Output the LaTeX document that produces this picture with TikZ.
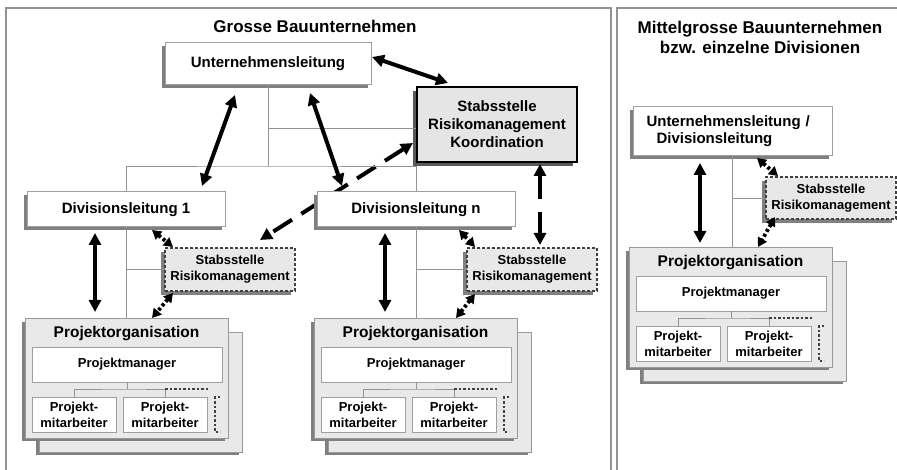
\documentclass[tikz,border=0pt]{standalone}
\usepackage{fontspec}
\setmainfont{Liberation Sans}
\usetikzlibrary{arrows.meta,shadows,calc}
\pgfdeclarelayer{background}
\pgfsetlayers{background,main}

\newcommand\fsize[2]{\fontsize{#1}{#2}\selectfont\bfseries}

\tikzset{
  framebox/.style={draw=gray!85, line width=1.4pt},
  orgline/.style={draw=gray!85, line width=0.9pt},
  shadowed/.style={drop shadow={shadow xshift=-3pt, shadow yshift=-3pt, fill=black!50, opacity=1}},
  wbox/.style={draw=gray!75, fill=white, line width=1pt, inner sep=0pt, shadowed, font=\fsize{15}{18}},
  koordbox/.style={draw=black, line width=2.4pt, fill=gray!20, inner sep=0pt, align=center,
    minimum width=160pt, minimum height=75pt, font=\fsize{15}{18},
    drop shadow={shadow xshift=-4pt, shadow yshift=-4pt, fill=black!65, opacity=1}},
  staff/.style={draw=black!75, dash pattern=on 3pt off 2pt, line width=1.5pt, fill=gray!18,
    inner sep=0pt, align=center, minimum width=130pt, minimum height=43pt,
    font=\fsize{13}{16}, drop shadow={shadow xshift=-4pt, shadow yshift=-4pt, fill=black!50, opacity=1}},
  pbox/.style={draw=gray!80, fill=gray!17, line width=1pt, inner sep=0pt,
    minimum width=203pt, minimum height=119pt, shadowed},
  ptitle/.style={inner sep=0pt, font=\fsize{15.5}{18}},
  pmbox/.style={draw=gray!75, fill=white, line width=0.9pt, inner sep=0pt,
    minimum width=190pt, minimum height=35pt, font=\fsize{13}{16}},
  mabox/.style={draw=gray!75, fill=white, line width=0.9pt, inner sep=0pt, align=center,
    minimum width=84pt, minimum height=35pt, font=\fsize{13}{16}},
  morebox/.style={draw=black!75, line width=1.1pt, dash pattern=on 2.5pt off 2pt},
  arrS/.style={line width=4pt, {Triangle[length=12pt,width=12pt]}-{Triangle[length=12pt,width=12pt]}},
  arrD/.style={arrS, dash pattern=on 22pt off 10pt},
  arrP/.style={line width=3.8pt, dash pattern=on 3pt off 2.5pt,
    {Triangle[length=9pt,width=10pt]}-{Triangle[length=9pt,width=10pt]}}
}

% one project organisation: front sheet, back sheet, manager and staff
\newcommand\projorg[3]{%
  \begin{scope}[shift={(#2,#3)}]
    \node[pbox] (#1b) at (115.5,73.5) {};
    \node[pbox] (#1) at (101.5,59.5) {};
    \node[ptitle] (#1t) at (101.5,15) {Projektorganisation};
    \node[pmbox] (#1pm) at (102,45.5) {Projektmanager};
    \node[mabox] (#1m1) at (49,95.5) {Projekt-\\mitarbeiter};
    \node[mabox] (#1m2) at (140,95.5) {Projekt-\\mitarbeiter};
    \coordinate (#1j) at (102,70);
    \draw[orgline] (#1pm.south) -- (#1j);
    \draw[orgline] (#1m1.north) |- (#1j) -| (#1m2.north);
    \draw[morebox] (#1m2.north |- #1j) -- ++(43,0);
    \draw[morebox] (195,78) -- (190,78) -- (190,113) -- (195,113);
  \end{scope}}

\begin{document}
\begin{tikzpicture}[x=1pt,y=-1pt]
\useasboundingbox (0,0) rectangle (897,470);
\clip (0,0) rectangle (897,470);

% panels
\draw[framebox] (6,8) rectangle (611,480);
\draw[framebox] (617,8) rectangle (910,480);

\node[font=\fsize{17}{20}] (t1) at (315,26) {Grosse Bauunternehmen};
\node[font=\fsize{17}{20}, align=center] (t2) at (760,37) {Mittelgrosse Bauunternehmen\\bzw. einzelne Divisionen};

% large companies
\node[wbox, minimum width=206pt, minimum height=42pt] (unt) at (268,64) {Unternehmensleitung};
\node[koordbox] (koord) at (497,124.5) {Stabsstelle\\Risikomanagement\\Koordination};
\node[wbox, minimum width=198pt, minimum height=35pt] (div1) at (126,209.5) {Divisionsleitung 1};
\node[wbox, minimum width=198pt, minimum height=35pt] (divn) at (416,209.5) {Divisionsleitung n};
\node[staff] (stabL) at (230,269.5) {Stabsstelle\\Risikomanagement};
\node[staff] (stabM) at (532,269.5) {Stabsstelle\\Risikomanagement};
\projorg{pL}{25}{319}
\projorg{pM}{314}{319}

% medium companies
\node[wbox, minimum width=199pt, minimum height=49pt, text width=172pt, inner xsep=13.5pt,
  align=left, font=\fsize{15}{17}] (untR) at (732.5,131.5) {Unternehmensleitung /\\\hspace*{10pt}Divisionsleitung};
\node[staff, minimum height=42pt] (stabR) at (831,198) {Stabsstelle\\Risikomanagement};
\projorg{pR}{629}{248}

% line organisation
\coordinate (jT) at (268,166);
\coordinate (jK) at (268,128);
\draw[orgline] (unt.south) -- (jT);
\draw[orgline] (div1.north) |- (jT) -| (divn.north);
\draw[orgline] (jK) -- (jK -| koord.west);
\draw[orgline] (div1.south) -- (div1.south |- pL.north);
\draw[orgline] (div1.south |- stabL.west) -- (stabL.west);
\draw[orgline] (divn.south) -- (divn.south |- pM.north);
\draw[orgline] (divn.south |- stabM.west) -- (stabM.west);
\draw[orgline] (untR.south) -- (untR.south |- pR.north);
\draw[orgline] (untR.south |- stabR.west) -- (stabR.west);

% communication paths
\coordinate (a4s) at (413,143);
\coordinate (a4e) at (260,240);
\begin{pgfonlayer}{background}
  \draw[arrD, dash pattern=on 22pt off 11pt] (a4s) -- (a4e);
\end{pgfonlayer}

\coordinate (a1s) at (372,57);   \coordinate (a1e) at (448,83);
\coordinate (a2s) at (235,95);   \coordinate (a2e) at (202,186);
\coordinate (a3s) at (310,93);   \coordinate (a3e) at (342,186);
\coordinate (a5s) at (540,164);  \coordinate (a5e) at (540,245);
\coordinate (a6s) at (95,233);   \coordinate (a6e) at (95,312);
\coordinate (a7s) at (385,233);  \coordinate (a7e) at (385,312);
\coordinate (a8s) at (152,230);  \coordinate (a8e) at (173,247);
\coordinate (a9s) at (173,293);  \coordinate (a9e) at (152,318);
\coordinate (b1s) at (459,230);  \coordinate (b1e) at (475,247);
\coordinate (b2s) at (475,294);  \coordinate (b2e) at (456,318);
\coordinate (c1s) at (700,163);  \coordinate (c1e) at (700,243);
\coordinate (c2s) at (757,158);  \coordinate (c2e) at (778,176);
\coordinate (c3s) at (775,217);  \coordinate (c3e) at (758,247);

\draw[arrS] (a1s) -- (a1e);
\draw[arrS] (a2s) -- (a2e);
\draw[arrS] (a3s) -- (a3e);
\draw[arrD, dash pattern=on 24pt off 13pt] (a5s) -- (a5e);
\draw[arrS] (a6s) -- (a6e);
\draw[arrS] (a7s) -- (a7e);
\draw[arrP] (a8s) -- (a8e);
\draw[arrP] (a9s) -- (a9e);
\draw[arrP] (b1s) -- (b1e);
\draw[arrP] (b2s) -- (b2e);
\draw[arrS] (c1s) -- (c1e);
\draw[arrP] (c2s) -- (c2e);
\draw[arrP] (c3s) -- (c3e);
\end{tikzpicture}
\end{document}
